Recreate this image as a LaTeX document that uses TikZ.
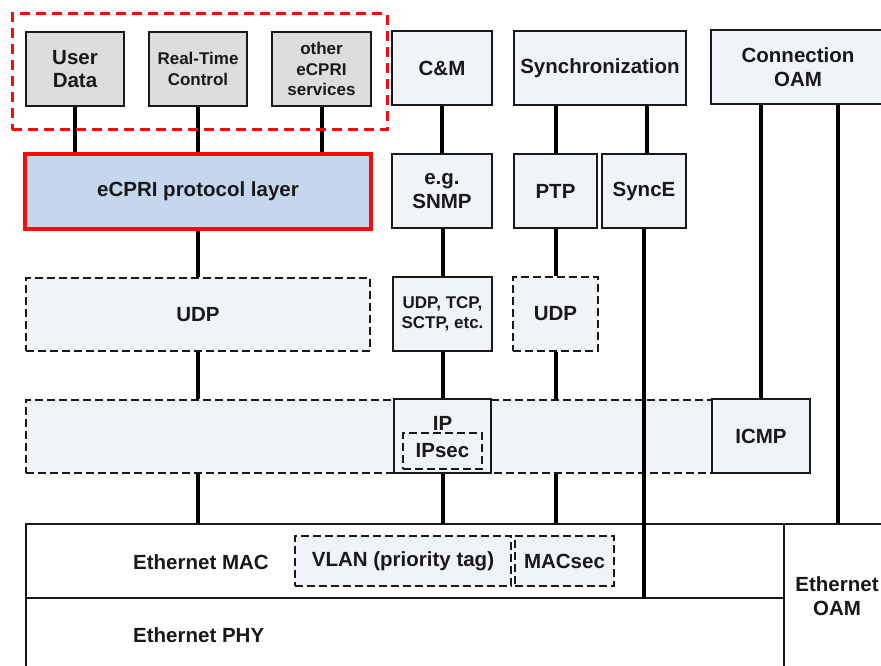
\documentclass[tikz,border=0pt]{standalone}
\usepackage{fontspec}
\setmainfont{Liberation Sans}
\pgfdeclarelayer{paper}
\pgfdeclarelayer{wires}
\pgfsetlayers{paper,wires,main}
\definecolor{boxfill}{RGB}{240,243,248}
\definecolor{graybox}{RGB}{221,221,221}
\definecolor{ecblue}{RGB}{197,215,238}
\definecolor{ecred}{RGB}{250,10,10}
\definecolor{ink}{RGB}{25,25,25}
\tikzset{
  box/.style={draw=ink, line width=1.6pt, fill=boxfill, inner sep=0pt, align=center,
    font=\bfseries\fontsize{20.5}{23.5}\selectfont, text=ink},
  gbox/.style={box, fill=graybox},
  dbox/.style={box, dash pattern=on 8pt off 4pt},
  smalltext/.style={font=\bfseries\fontsize{17}{20.5}\selectfont},
  conn/.style={line width=4pt, draw=black},
  plain/.style={inner sep=0pt, align=center, font=\bfseries\fontsize{20.5}{23.5}\selectfont, text=ink},
}
\begin{document}
\begin{tikzpicture}[x=1pt,y=-1pt]
\begin{pgfonlayer}{paper}
\fill[white] (0,0) rectangle (881,666);
\end{pgfonlayer}
\useasboundingbox (0,0) rectangle (881,666);

% top row
\node[gbox, minimum width=98pt, minimum height=74pt] (ud) at (75,69) {User\\Data};
\node[gbox, smalltext, minimum width=98pt, minimum height=74pt] (rtc) at (198,69) {Real-Time\\Control};
\node[gbox, smalltext, minimum width=99pt, minimum height=74pt] (oth) at (321.5,69) {other\\eCPRI\\services};
\node[draw=ecred, line width=3pt, dash pattern=on 10pt off 6pt, minimum width=375pt, minimum height=116pt, inner sep=0pt] (grp) at (199.5,72) {};

\node[box, minimum width=100pt, minimum height=74pt] (cm) at (442,68) {C\&M};
\node[box, minimum width=172pt, minimum height=74pt] (sync) at (600,68) {Synchronization};
\node[box, minimum width=174pt, minimum height=74pt] (coam) at (798,67) {Connection\\OAM};

% second row
\node[box, draw=ecred, line width=4pt, fill=ecblue, minimum width=346pt, minimum height=75pt] (ecpri) at (198,191.5) {eCPRI protocol layer};
\node[box, minimum width=100pt, minimum height=74pt] (snmp) at (442,191) {e.g.\\SNMP};
\node[box, minimum width=83pt, minimum height=74pt] (ptp) at (555.5,191) {PTP};
\node[box, minimum width=84pt, minimum height=74pt] (synce) at (644,191) {SyncE};

% third row
\node[dbox, minimum width=344pt, minimum height=73pt] (udp1) at (198,314.5) {UDP};
\node[box, smalltext, minimum width=99pt, minimum height=74pt] (udptcp) at (442.5,314) {UDP, TCP,\\SCTP, etc.};
\node[dbox, minimum width=85pt, minimum height=74pt] (udp2) at (555.5,314) {UDP};

% IP row
\node[dbox, minimum width=686pt, minimum height=73pt] (iprow) at (369,436.5) {};
\node[box, minimum width=97pt, minimum height=74pt] (ip) at (442.5,436) {};
\node[plain] (iptext) at (442.5,423) {IP};
\node[dbox, minimum width=79pt, minimum height=36pt] (ipsec) at (442.5,451) {IPsec};
\node[box, minimum width=98pt, minimum height=74pt] (icmp) at (761,436) {ICMP};

% Ethernet
\node[box, fill=white, line width=1.3pt, minimum width=758pt, minimum height=74pt] (mac) at (405,561) {};
\node[box, fill=white, line width=1.3pt, minimum width=758pt, minimum height=70pt] (phy) at (405,633) {};
\node[box, fill=white, line width=1.3pt, minimum width=106pt, minimum height=144pt] (eoam) at (837,596) {Ethernet\\OAM};
\node[plain, anchor=west] (mactext) at (133,562) {Ethernet MAC};
\node[plain, anchor=west] (phytext) at (133,635) {Ethernet PHY};
\node[dbox, minimum width=216pt, minimum height=50pt] (vlan) at (403,561) {VLAN (priority tag)};
\node[dbox, minimum width=99pt, minimum height=50pt] (macsec) at (564.5,561) {MACsec};

\coordinate (oamr) at (838,104);

\begin{pgfonlayer}{wires}
  \draw[conn] (ud.south) -- (ud.south |- ecpri.north);
  \draw[conn] (rtc.south) -- (rtc.south |- ecpri.north);
  \draw[conn] (oth.south) -- (oth.south |- ecpri.north);
  \draw[conn] (ecpri.south) -- (udp1.north);
  \draw[conn] (udp1.south) -- (udp1.south |- iprow.north);
  \draw[conn] (udp1.south |- iprow.south) -- (udp1.south |- mac.north);
  \draw[conn] (cm.south -| snmp.north) -- (snmp.north);
  \draw[conn] (snmp.south -| udptcp.north) -- (udptcp.north);
  \draw[conn] (udptcp.south -| ip.north) -- (ip.north);
  \draw[conn] (ip.south) -- (ip.south |- mac.north);
  \draw[conn] (sync.south -| ptp.north) -- (ptp.north);
  \draw[conn] ([xshift=3pt]synce.north |- sync.south) -- ([xshift=3pt]synce.north);
  \draw[conn] (ptp.south) -- (udp2.north);
  \draw[conn] (udp2.south) -- (udp2.south |- mac.north);
  \draw[conn] (coam.south -| icmp.north) -- (icmp.north);
  \draw[conn] (oamr) -- (oamr |- eoam.north);
\end{pgfonlayer}
\coordinate (syncend) at (644,599);
\draw[line width=3.2pt] (synce.south) -- (syncend);
\end{tikzpicture}
\end{document}
